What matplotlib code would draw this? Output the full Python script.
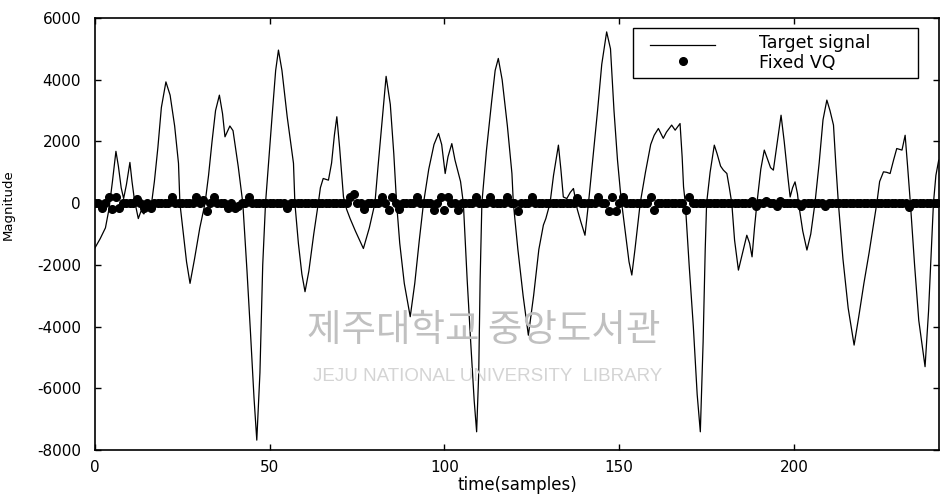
import numpy as np
import matplotlib
matplotlib.use("Agg")
import matplotlib.pyplot as plt
from matplotlib.lines import Line2D
from matplotlib.patches import Rectangle

# Target signal: sample positions and magnitudes of its vertices
sig_t = [0, 1.5, 3, 4, 5, 6, 6.7, 7.5, 8.2, 9, 10, 10.6, 11.3, 12.4, 13.2, 14, 15, 16.2, 17, 18,
         19, 20.3, 21.5, 22.8, 23.9, 24.3, 25.2, 26.2, 27.2, 28.5, 30, 31.5, 32.5, 33.5, 34.5, 35.6,
         36.5, 37.2, 38.6, 39.5, 40.2, 41, 42.3, 43.5, 44.5, 45.5, 46.3, 47.2, 48, 48.8, 49.8, 50.8,
         51.7, 52.5, 53.5, 55, 56.8, 57.2, 58.2, 59.2, 60.1, 61.2, 62.6, 63.9, 64.5, 65.3, 66.8, 67.7,
         68.5, 69.2, 70, 71.1, 72, 73, 74.5, 76.8, 78.5, 80.1, 81, 82.2, 83.3, 84.5, 85.5, 86.3,
         87.2, 88.5, 90.2, 91.5, 92.8, 94, 95.5, 97, 98.3, 99.2, 100.2, 101, 102.1, 103, 104, 104.6,
         105.4, 106.5, 107.5, 108.5, 109.2, 109.8, 110.2, 110.7, 112, 113.5, 114.5, 115.4, 116.5, 118,
         119.3, 119.7, 121, 122.5, 124, 125.5, 127, 128.3, 129, 130.2, 131.2, 132.6, 133.3, 134,
         135, 136, 136.9, 138, 139, 140.2, 140.8, 141.2, 142.5, 143.8, 145, 146.4, 147.5, 148.5,
         149.5, 150.3, 150.7, 151.8, 152.8, 153.6, 154.5, 156, 157.5, 159, 160, 161.2, 162.6, 163.5,
         165, 166, 167.4, 168, 168.4, 168.9, 170, 171.2, 172.3, 173.2, 174, 174.6, 175, 176, 177.2,
         178, 179, 179.8, 180.8, 181.5, 182.2, 183, 184.1, 185.3, 186.5, 187.3, 188, 188.7, 189.4,
         190.5, 191.5, 192.5, 193.3, 194.1, 195, 196.3, 197.2, 198.3, 198.9, 199.6, 200.3, 201,
         201.3, 202.5, 203.7, 204.8, 206, 207.2, 208.3, 209.4, 210.3, 211.3, 212, 212.7, 214, 215.5,
         217.2, 218.5, 220, 221.5, 223.7, 224.5, 225.6, 226.5, 227.5, 228.5, 229.4, 230.9, 231.8,
         232.5, 233.3, 234.5, 235.7, 237.5, 238.5, 239.3, 239.9, 240.6, 241.4]
sig_v = [-1450, -1150, -800, -200, 700, 1680, 1200, 500, 150, 600, 1320, 700, 100, -500, -250, -350,
         -100, 0, 700, 1800, 3100, 3930, 3500, 2500, 1290, 0, -900, -1900, -2600, -1800, -800, 0,
         900, 2000, 3000, 3500, 2900, 2150, 2500, 2350, 1800, 1180, 0, -2200, -4200, -6300, -7680,
         -5500, -2000, 0, 1500, 3000, 4300, 4960, 4300, 2800, 1290, 0, -1300, -2300, -2870, -2200,
         -1000, 0, 500, 800, 745, 1300, 2200, 2800, 1800, 200, -200, -500, -900, -1470, -800, 0,
         1200, 2700, 4110, 3200, 1600, 0, -1300, -2600, -3680, -2600, -1200, 0, 1100, 1900, 2260,
         1900, 960, 1500, 1930, 1400, 960, 700, 0, -2500, -4500, -6400, -7410, -5500, -2500, 0,
         1700, 3300, 4300, 4690, 4000, 2500, 960, 0, -1500, -3000, -4280, -3000, -1500, -710, -500,
         0, 900, 1880, 1100, 200, 150, 350, 475, -200, -600, -1040, -400, 0, 1500, 3000, 4500,
         5550, 5000, 3000, 1400, 420, 0, -1000, -1900, -2330, -1500, 0, 1000, 1900, 2200, 2420,
         2100, 2300, 2530, 2365, 2580, 1500, 530, 0, -2000, -4000, -6200, -7410, -4500, -1500, 0,
         1000, 1880, 1600, 1200, 1070, 960, 500, 0, -1200, -2170, -1600, -1040, -1300, -1740, -800,
         0, 1100, 1720, 1400, 1150, 1070, 1800, 2850, 2000, 800, 200, 500, 690, 300, 0, -900,
         -1520, -1000, 0, 1300, 2700, 3340, 3000, 2530, 1200, 0, -1800, -3400, -4600, -3700, -2600,
         -1600, 0, 700, 1015, 1000, 960, 1400, 1770, 1720, 2200, 1200, 0, -2000, -3800, -5300,
         -3500, -1500, 0, 900, 1390]

# Fixed VQ output, one value per sample (0 .. 241)
vq_v = [
    0, 0, -170, 0, 200, -200, 200, -170, 0, 0,
    0, 0, 150, 0, -170, 0, -170, 0, 0, 0,
    0, 0, 200, 0, 0, 0, 0, 0, 0, 200,
    0, 100, -250, 0, 200, 0, 0, 0, -170, 0,
    -170, -100, 0, 0, 200, 0, 0, 0, 0, 0,
    0, 0, 0, 0, 0, -170, 0, 0, 0, 0,
    0, 0, 0, 0, 0, 0, 0, 0, 0, 0,
    0, 0, 0, 200, 300, 0, 0, -200, 0, 0,
    0, 0, 200, 0, -230, 200, 0, -200, 0, 0,
    0, 0, 200, 0, 0, 0, 0, -230, 0, 200,
    -230, 200, 0, 0, -230, 0, 0, 0, 0, 200,
    0, 0, 0, 200, 0, 0, 0, 0, 200, 0,
    0, -250, 0, 0, 0, 200, 0, 0, 0, 0,
    0, 0, 0, 0, 0, 0, 0, 0, 170, 0,
    0, 0, 0, 0, 200, 0, 0, -250, 200, -250,
    0, 200, 0, 0, 0, 0, 0, 0, 0, 200,
    -230, 0, 0, 0, 0, 0, 0, 0, 0, -230,
    200, 0, 0, 0, 0, 0, 0, 0, 0, 0,
    0, 0, 0, 0, 0, 0, 0, 0, 70, -100,
    0, 0, 70, 0, 0, -100, 70, 0, 0, 0,
    0, 0, -100, 0, 0, 0, 0, 0, 0, -100,
    0, 0, 0, 0, 0, 0, 0, 0, 0, 0,
    0, 0, 0, 0, 0, 0, 0, 0, 0, 0,
    0, 0, 0, -120, 0, 0, 0, 0, 0, 0,
    0, 0,
]
vq_t = list(range(len(vq_v)))

x_ticks = [0, 50, 100, 150, 200]
y_ticks = [-8000, -6000, -4000, -2000, 0, 2000, 4000, 6000]
series_names = ["Target signal", "Fixed VQ"]

plt.rcParams["font.family"] = ["DejaVu Sans"]
plt.rcParams["axes.unicode_minus"] = False

fig = plt.figure(figsize=(9.43, 4.99), dpi=100)
ax = fig.add_axes([0.1007, 0.0982, 0.8951, 0.8657])

# library watermark behind the plot
fig.text(0.513, 0.337, "제주대학교 중앙도서관", family=["Noto Sans CJK KR", "DejaVu Sans"],
         fontsize=27, color="#c0c0c0", ha="center", va="center", zorder=0)
fig.text(0.517, 0.246, "JEJU NATIONAL UNIVERSITY  LIBRARY", family=["Liberation Sans", "DejaVu Sans"],
         fontsize=13.5, color="#d4d4d4", ha="center", va="center", zorder=0)
ax.patch.set_alpha(0)

ax.plot(sig_t, sig_v, color="black", lw=0.9, zorder=2)
ax.plot(vq_t, vq_v, linestyle="none", marker="o", ms=5.5, color="black", zorder=3)

ax.set_xlim(0, 241.5)
ax.set_ylim(-8000, 6000)
ax.set_xticks(x_ticks)
ax.set_yticks(y_ticks)
ax.tick_params(direction="in", length=4, width=1, top=True, right=True, labelsize=11)
ax.tick_params(axis="y", pad=10)
ax.tick_params(axis="x", pad=7)
for s in ax.spines.values():
    s.set_linewidth(1.2)

ax.set_xlabel("time(samples)", fontsize=12, labelpad=1)
ax.set_ylabel("Magnitude", fontsize=9.5, labelpad=6)
ax.yaxis.set_label_coords(-0.095, 0.567)

# legend box drawn in axes coordinates
tr = ax.transAxes
ax.add_patch(Rectangle((0.6374, 0.8611), 0.3377, 0.1158, transform=tr, facecolor="white",
                       edgecolor="black", lw=1.0, zorder=5))
ax.add_line(Line2D([0.6576, 0.7346], [0.9375, 0.9375], transform=tr, color="black",
                   lw=0.9, zorder=6))
ax.add_line(Line2D([0.6967], [0.9005], transform=tr, linestyle="none", marker="o", ms=5.5,
                   color="black", zorder=6))
ax.text(0.7867, 0.942, series_names[0], transform=tr, fontsize=12.5, va="center", ha="left", zorder=6)
ax.text(0.7867, 0.897, series_names[1], transform=tr, fontsize=12.5, va="center", ha="left", zorder=6)

fig.savefig("out.png", dpi=100)
